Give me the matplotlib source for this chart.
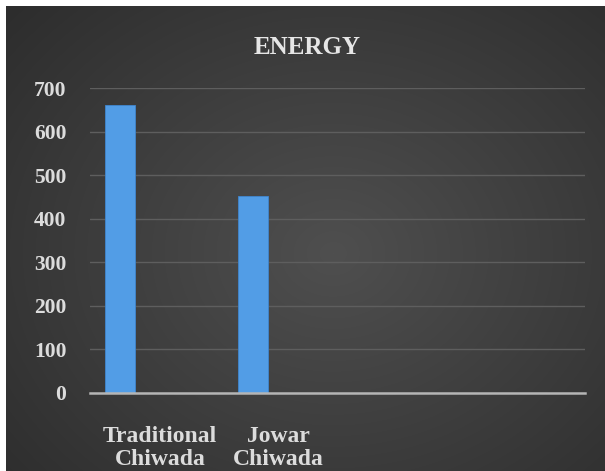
import numpy as np
import matplotlib
matplotlib.use("Agg")
import matplotlib.pyplot as plt

categories = ["Traditional\nChiwada", "Jowar\nChiwada"]
energy = [661, 452]
yticks = [0, 100, 200, 300, 400, 500, 600, 700]
title = "ENERGY"
label_offsets = [0.30, 0.19]

W, H = 605, 471
fig = plt.figure(figsize=(W / 100, H / 100), dpi=100)
fig.patch.set_facecolor("white")

# background panel with radial gradient
bg = fig.add_axes([6 / W, 0, 1 - 6 / W, 1 - 6 / H])
bg.set_axis_off()
yy, xx = np.mgrid[0:H, 0:W]
cx, cy = 330, 250
r = np.sqrt(((xx - cx) / 360) ** 2 + ((yy - cy) / 300) ** 2)
val = 0.31 - 0.13 * np.clip(r, 0, 1.2) / 1.2
img = np.dstack([val, val, val])
bg.imshow(img, aspect="auto", extent=[0, 1, 0, 1], zorder=0)
bg.set_xlim(0, 1)
bg.set_ylim(0, 1)

ax = fig.add_axes([90 / W, 78 / H, 495 / W, 305 / H])
ax.patch.set_alpha(0)
x = np.arange(len(categories))
ax.bar(x, energy, width=0.226, color="#529de6", edgecolor="#3f86cf", linewidth=0.6, zorder=3)
ax.set_xlim(-0.2256, 3.496)
ax.set_ylim(0, 700)
ax.set_yticks(yticks)
ax.grid(axis="y", color="#5e5e5e", linewidth=1.0, zorder=1)
for s in ["top", "right", "left"]:
    ax.spines[s].set_visible(False)
ax.spines["bottom"].set_color("#b5b5b5")
ax.spines["bottom"].set_linewidth(1.8)
ax.spines["bottom"].set_zorder(4)

font = dict(family=["Liberation Serif", "DejaVu Serif"], weight="bold")
ax.set_yticklabels([str(v) for v in yticks], color="#dcdcdc", fontsize=15.5, **font)
ax.tick_params(axis="y", length=0, pad=17)
ax.set_xticks(x + np.array(label_offsets))
ax.set_xticklabels(categories, color="#dcdcdc", fontsize=17, linespacing=1.1, **font)
ax.tick_params(axis="x", length=0, pad=24)

fig.text(307 / W, 1 - 47 / H, title, ha="center", va="center", color="#e6e6e6", fontsize=18, **font)

fig.savefig("out.png", dpi=100, facecolor=fig.get_facecolor())
